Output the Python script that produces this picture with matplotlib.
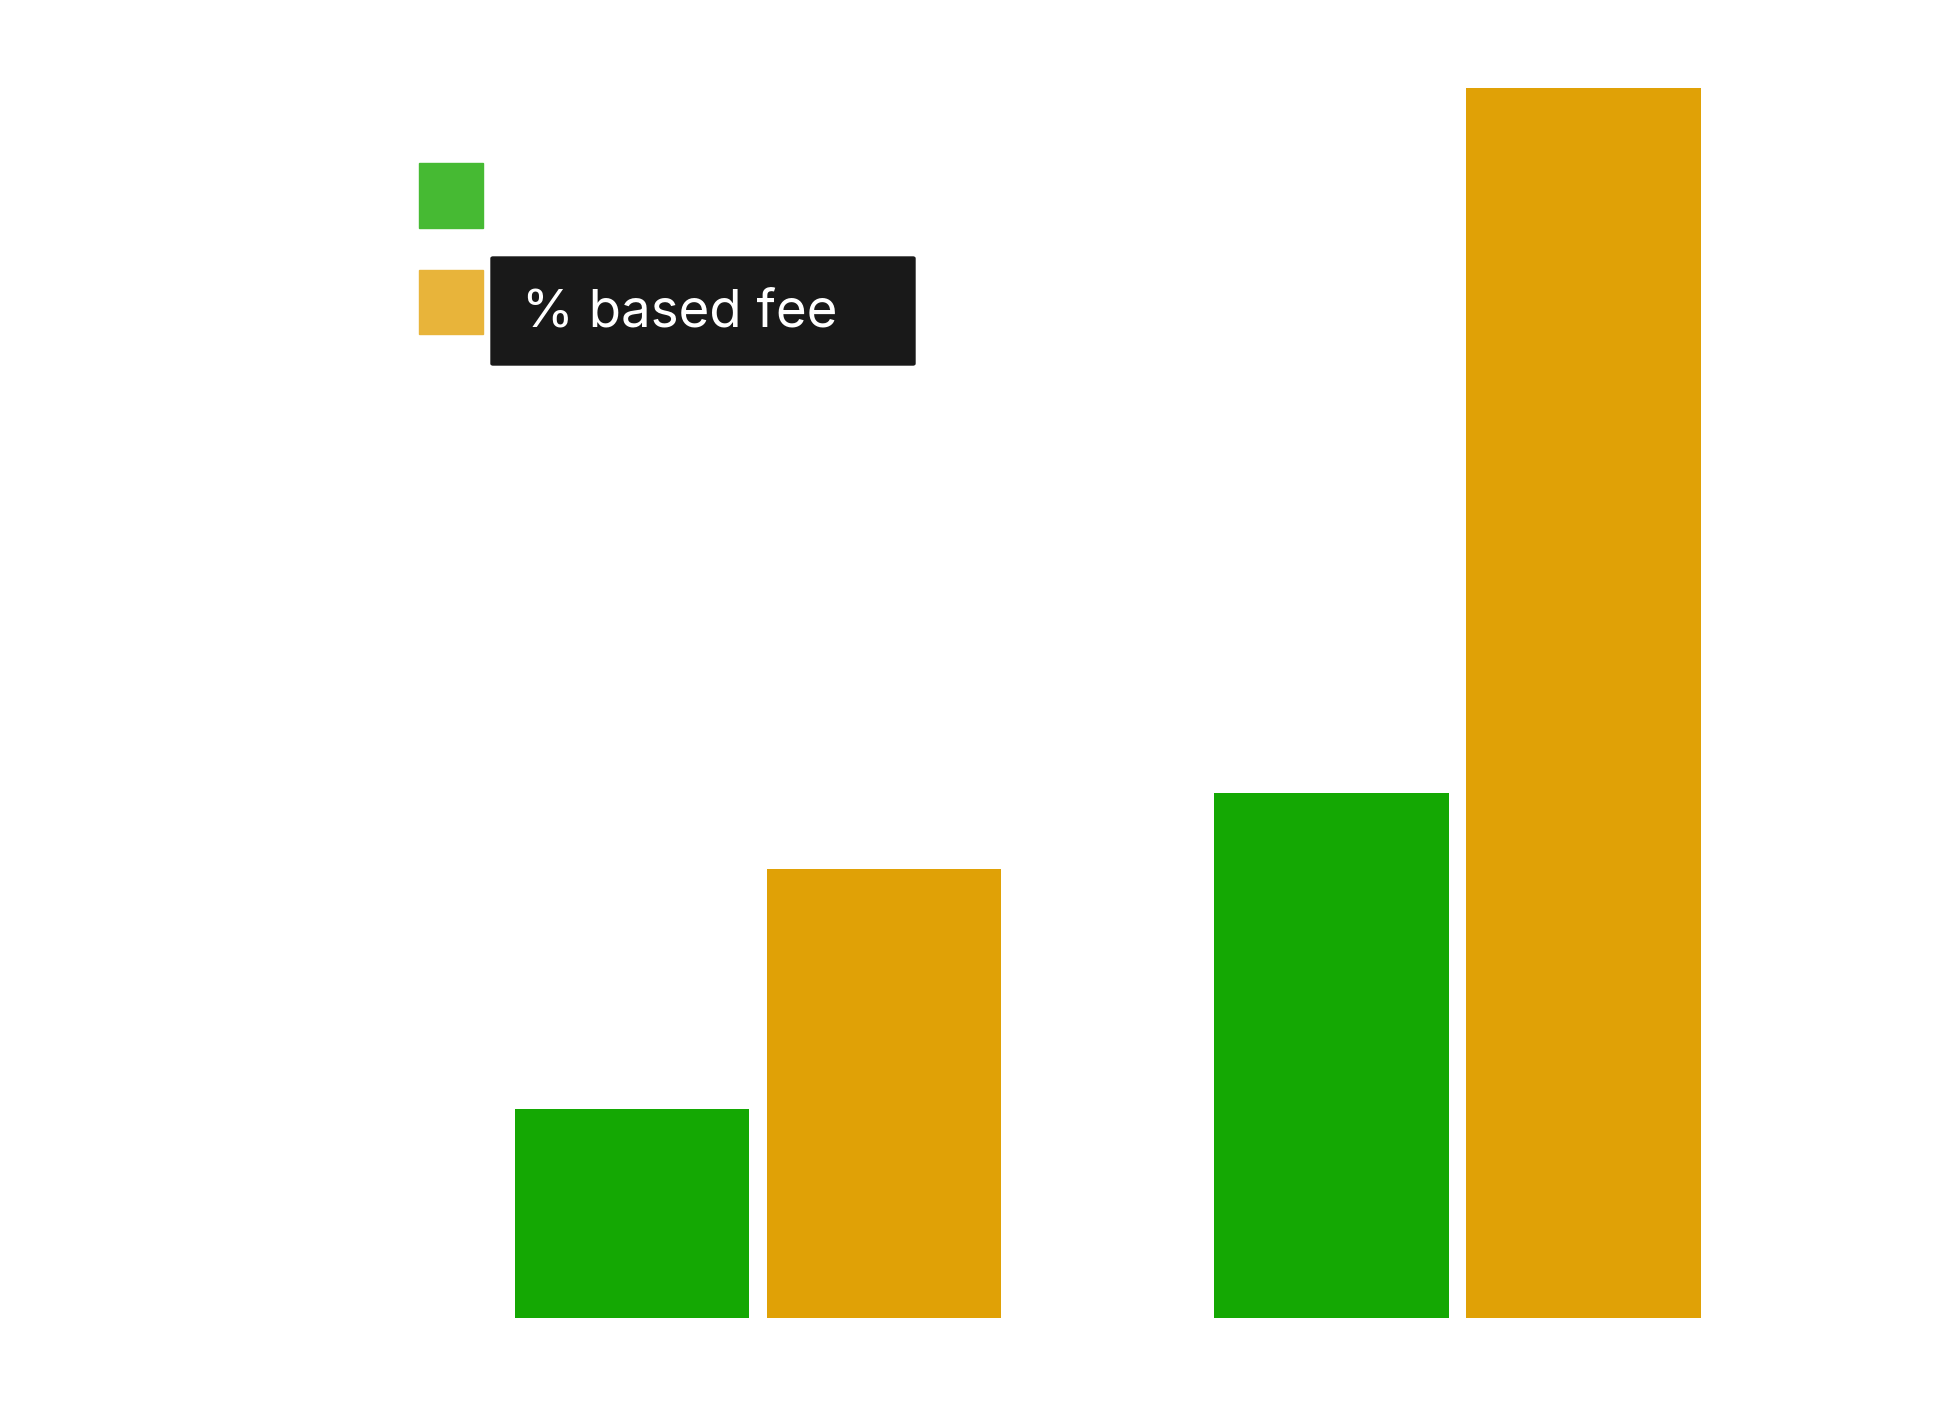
import numpy as np
import matplotlib.pyplot as plt
from matplotlib.patches import Rectangle, FancyBboxPatch

# bar values (no axis shown, heights read relative to tallest bar)
groups = ['A', 'B']
flat_fee = [1.70, 4.27]
pct_fee = [3.65, 10.0]
series_labels = ['', '% based fee']

green = '#14a803'
orange = '#e0a106'
legend_colors = ['#46ba33', '#e8b43a']

W, H = 1938, 1413
fig = plt.figure(figsize=(W / 100, H / 100), dpi=100)
ax = fig.add_axes([0, 0, 1, 1])

x = np.arange(len(groups))
bw = 0.3355
off = 0.18
ax.bar(x - off, flat_fee, width=bw, color=green)
ax.bar(x + off, pct_fee, width=bw, color=orange)

ax.set_xlim(-1.083, 1.686)
ax.set_ylim(-0.775, 10.715)
ax.axis('off')

# legend squares (pixel coords, from top)
def px_rect(x0, y0, x1, y1, **kw):
    r = Rectangle((x0 / W, 1 - y1 / H), (x1 - x0) / W, (y1 - y0) / H,
                  transform=fig.transFigure, **kw)
    fig.patches.append(r)

px_rect(419, 163, 483, 228, color=legend_colors[0])
px_rect(419, 270, 483, 334, color=legend_colors[1])

# hover tooltip over the second legend entry
tip = FancyBboxPatch((491 / W, 1 - 365 / H), (915 - 491) / W, (365 - 257) / H,
                     boxstyle='round,pad=0,rounding_size=0.001',
                     transform=fig.transFigure, color='#191919')
fig.patches.append(tip)
fig.text(522 / W, 1 - 313 / H, series_labels[1], color='white',
         fontsize=38, family=['Inter', 'DejaVu Sans'], va='center', ha='left')

fig.savefig('out.png', dpi=100, facecolor='white')
